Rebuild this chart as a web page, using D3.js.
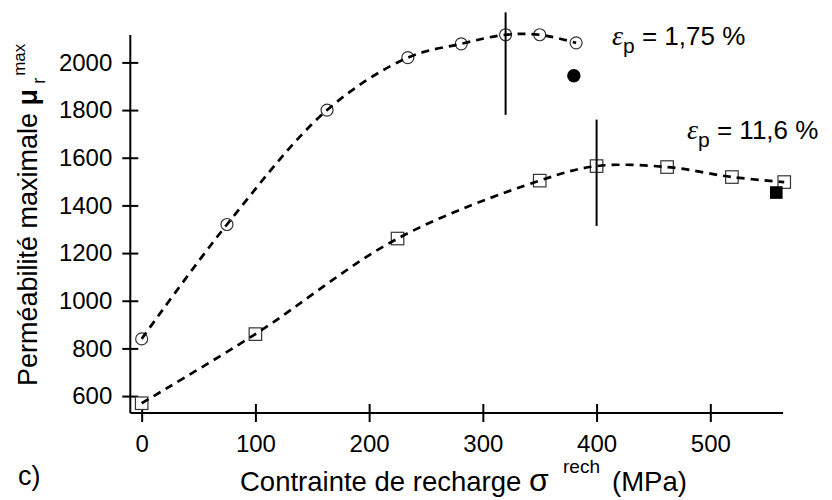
<!DOCTYPE html>
<html><head><meta charset="utf-8">
<script src="https://cdn.jsdelivr.net/npm/d3@7"></script>
<style>
body{margin:0;background:#fff;}
text{font-family:"Liberation Sans",Arial,sans-serif;fill:#000;}
</style></head>
<body><svg id="c" width="832" height="500"></svg>
<script>
// Data
const circleX = [0, 75, 163, 234, 281, 320, 350, 382];
const circleY = [840, 1320, 1800, 2020, 2078, 2116, 2116, 2082];
const circleFilledX = [380];
const circleFilledY = [1944];
const squareX = [0, 100, 225, 350, 400, 462, 519, 565];
const squareY = [570, 860, 1261, 1504, 1565, 1561, 1519, 1498];
const squareFilledX = [558];
const squareFilledY = [1454];
const vlineX = [320, 400];
const vlineY0 = [1780, 1314];
const vlineY1 = [2210, 1760];
const xTicks = [0, 100, 200, 300, 400, 500];
const yTicks = [600, 800, 1000, 1200, 1400, 1600, 1800, 2000];
const xDomain = [-10, 564];
const yDomain = [529, 2115];

const svg = d3.select("#c");
const x = d3.scaleLinear().domain(xDomain).range([130.3, 783.1]);
const y = d3.scaleLinear().domain(yDomain).range([413, 35]);

// axes
const gx = svg.append("g").attr("transform","translate(0,413)")
  .call(d3.axisBottom(x).tickValues(xTicks).tickSize(9).tickSizeOuter(0).tickFormat(d3.format("d")));
gx.select(".domain").attr("stroke","#000").attr("stroke-width",2).attr("d",`M${x.range()[0]},0H${x.range()[1]}`);
gx.selectAll(".tick line").attr("y1",-9).attr("y2",9).attr("stroke-width",2);
gx.selectAll(".tick text").attr("y",39).attr("dy",0).style("font-size","24px");

const gy = svg.append("g").attr("transform","translate(130.3,0)")
  .call(d3.axisLeft(y).tickValues(yTicks).tickSize(8).tickSizeOuter(0).tickPadding(10).tickFormat(d3.format("d")));
gy.select(".domain").attr("stroke","#000").attr("stroke-width",2).attr("d",`M0,${y.range()[0]}V${y.range()[1]}`);
gy.selectAll(".tick line").attr("x1",8).attr("x2",-8).attr("stroke-width",2);
gy.selectAll(".tick text").style("font-size","24px").attr("x",-18);

// markers (open)
const circ = circleX.map((d,i)=>[d,circleY[i]]);
const sq = squareX.map((d,i)=>[d,squareY[i]]);
svg.append("g").selectAll("circle").data(circ).join("circle")
  .attr("cx",d=>x(d[0])).attr("cy",d=>y(d[1])).attr("r",6)
  .attr("fill","#fff").attr("stroke","#333").attr("stroke-width",1.2);
const s=12.5;
svg.append("g").selectAll("rect").data(sq).join("rect")
  .attr("x",d=>x(d[0])-s/2).attr("y",d=>y(d[1])-s/2).attr("width",s).attr("height",s)
  .attr("fill","#fff").attr("stroke","#333").attr("stroke-width",1.2);

// dashed curves
const line = d3.line().x(d=>x(d[0])).y(d=>y(d[1])).curve(d3.curveCatmullRom.alpha(0.5));
svg.append("path").attr("d",line(circ)).attr("fill","none").attr("stroke","#000")
  .attr("stroke-width",2.7).attr("stroke-dasharray","8,6");
svg.append("path").attr("d",line(sq)).attr("fill","none").attr("stroke","#000")
  .attr("stroke-width",2.7).attr("stroke-dasharray","8,6");

// filled markers
svg.append("g").selectAll("circle").data(circleFilledX.map((d,i)=>[d,circleFilledY[i]])).join("circle")
  .attr("cx",d=>x(d[0])).attr("cy",d=>y(d[1])).attr("r",6.7).attr("fill","#000");
svg.append("g").selectAll("rect").data(squareFilledX.map((d,i)=>[d,squareFilledY[i]])).join("rect")
  .attr("x",d=>x(d[0])-6.3).attr("y",d=>y(d[1])-6.3).attr("width",12.6).attr("height",12.6).attr("fill","#000");

// vertical lines
svg.append("g").selectAll("line").data(vlineX).join("line")
  .attr("x1",d=>x(d)).attr("x2",d=>x(d))
  .attr("y1",(d,i)=>y(vlineY1[i])).attr("y2",(d,i)=>y(vlineY0[i]))
  .attr("stroke","#000").attr("stroke-width",2);

// annotations
function eps(xp, yb, val){
  const t = svg.append("text").attr("x",xp).attr("y",yb).style("font-size","26px");
  t.append("tspan").text("ε").style("font-style","italic").style("font-family","'Liberation Serif','Times New Roman',serif").style("font-size","28px");
  t.append("tspan").text("p").attr("dy",8).style("font-size","21px");
  t.append("tspan").text(" = "+val).attr("dy",-8);
}
eps(612, 45, "1,75 %");
eps(687, 139, "11,6 %");

// axis labels
svg.append("text").attr("x",18).attr("y",485).style("font-size","27px").text("c)");
svg.append("text").attr("x",240).attr("y",491).style("font-size","27.5px").text("Contrainte de recharge");
svg.append("text").attr("x",529).attr("y",491).style("font-size","32px").text("σ");
svg.append("text").attr("x",563).attr("y",473).style("font-size","19px").text("rech");
svg.append("text").attr("x",612).attr("y",491).style("font-size","27.5px").text("(MPa)");

const yl = svg.append("text").attr("transform","translate(37,386) rotate(-90)").style("font-size","27px");
yl.append("tspan").text("Perméabilité maximale ");
yl.append("tspan").text("μ").style("font-weight","bold").style("font-size","27px");
yl.append("tspan").text("r").attr("dy",8).attr("dx",5).style("font-size","18px");
yl.append("tspan").text("max").attr("dy",-20).attr("dx",2).style("font-size","17px");
</script></body></html>
